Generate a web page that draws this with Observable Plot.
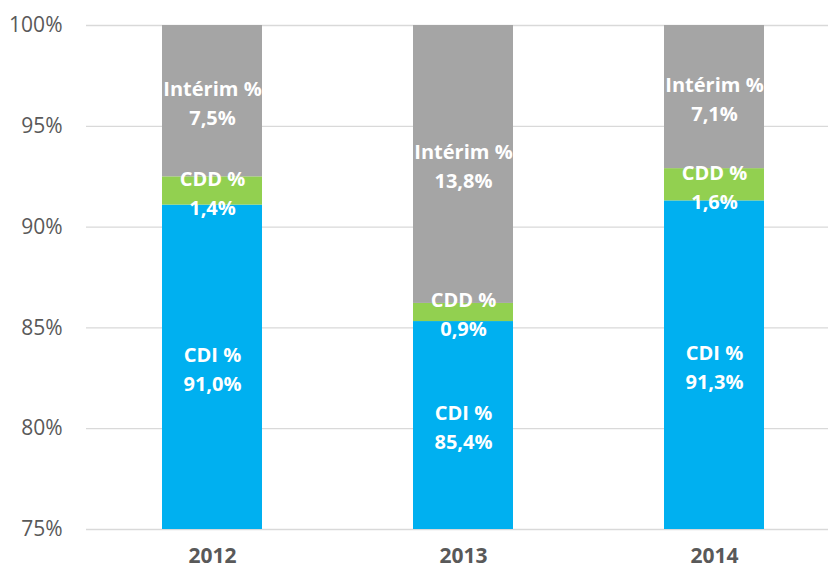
<!DOCTYPE html>
<html>
<head>
<meta charset="utf-8">
<script src="https://cdn.jsdelivr.net/npm/d3@7"></script>
<script src="https://cdn.jsdelivr.net/npm/@observablehq/plot@0.6"></script>
<style>
  html, body { margin: 0; padding: 0; background: #fff; }
</style>
</head>
<body>
<div id="chart"></div>
<script>
const years = ["2012", "2013", "2014"];
const seriesNames = ["CDI %", "CDD %", "Intérim %"];
const cdi = [91.0, 85.4, 91.3];
const cdd = [1.4, 0.9, 1.6];
const interim = [7.5, 13.8, 7.1];
const colors = ["#00B0F0", "#92D050", "#A5A5A5"];
const yTicks = [0.75, 0.80, 0.85, 0.90, 0.95, 1.00];

const seriesValues = [cdi, cdd, interim];
const rows = [];
years.forEach((year, i) => {
  const total = seriesValues.reduce((s, arr) => s + arr[i], 0);
  let acc = 0;
  seriesNames.forEach((name, k) => {
    const v = seriesValues[k][i];
    const lo = acc / total;
    acc += v;
    const hi = acc / total;
    rows.push({year, series: name, value: v, lo, hi,
      mid: (Math.max(lo, 0.75) + Math.min(hi, 1)) / 2,
      label: name + "\n" + v.toFixed(1).replace(".", ",") + "%"});
  });
});

const chart = Plot.plot({
  width: 828,
  height: 569,
  marginTop: 25,
  marginBottom: 40,
  marginLeft: 86,
  marginRight: 0,
  style: {fontFamily: "'Open Sans', sans-serif", color: "#595959", background: "#fff"},
  x: {domain: years, range: [86, 841], paddingInner: 0.6, paddingOuter: 0.3, label: null},
  y: {domain: [0.75, 1], label: null},
  color: {domain: seriesNames, range: colors},
  marks: [
    Plot.ruleY(yTicks, {stroke: "#D9D9D9", strokeWidth: 1.3}),
    Plot.barY(rows, {x: "year", y1: "lo", y2: "hi", fill: "series", clip: true}),
    Plot.text(rows, {x: "year", y: "mid", text: "label", fill: "white",
      fontSize: 20, fontWeight: "bold", lineHeight: 1.45}),
    Plot.axisY({ticks: yTicks, tickSize: 0, tickPadding: 24, fontSize: 21,
      tickFormat: d3.format(".0%"), label: null}),
    Plot.axisX({tickSize: 0, tickPadding: 19, fontSize: 21, fontWeight: "bold", label: null})
  ]
});
document.getElementById("chart").appendChild(chart);
</script>
</body>
</html>
